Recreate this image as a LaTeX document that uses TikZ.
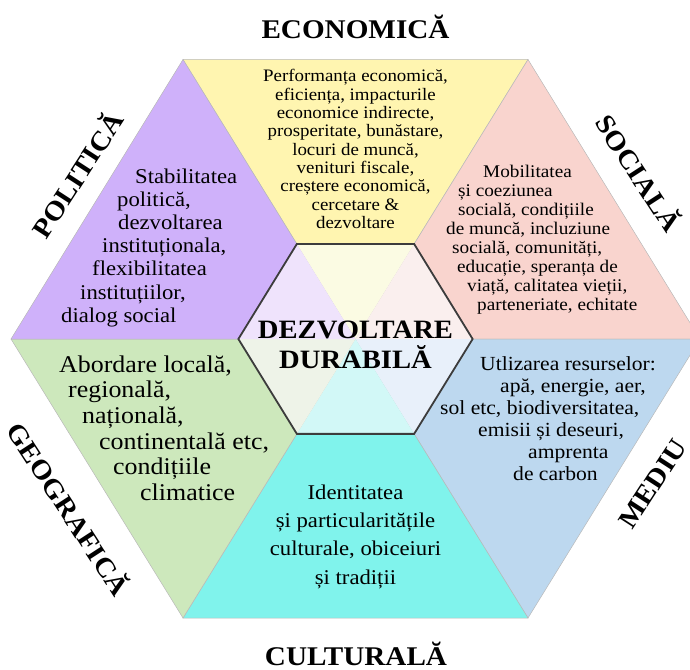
\documentclass[tikz,border=0pt]{standalone}
\usepackage{fontspec}
\setmainfont{Liberation Serif}[FakeStretch=1.08]
\usetikzlibrary{calc}
\definecolor{cyel}{HTML}{FFF5B0}
\definecolor{cpur}{HTML}{CFB1FA}
\definecolor{cpink}{HTML}{F9D4CE}
\definecolor{cgreen}{HTML}{CDE8BC}
\definecolor{ccyan}{HTML}{80F3EC}
\definecolor{cblue}{HTML}{BDD8EF}
\definecolor{tyel}{HTML}{FBFBE3}
\definecolor{tpur}{HTML}{EFE3FC}
\definecolor{tpink}{HTML}{FAEFEE}
\definecolor{tgreen}{HTML}{EEF3E8}
\definecolor{tcyan}{HTML}{D2F8F7}
\definecolor{tblue}{HTML}{E8F0FA}
\definecolor{hexline}{HTML}{3C3C3C}
\begin{document}
\begin{tikzpicture}[x=1pt,y=-1pt,
  sector/.style={draw=gray!55,line width=0.5pt},
  title/.style={font=\bfseries\fontsize{27}{27}\selectfont,inner sep=0pt},
  center/.style={font=\bfseries\fontsize{26.5}{30}\selectfont,inner sep=0pt,anchor=base},
  eco/.style={font=\fontsize{17.5}{18}\selectfont,inner sep=0pt,anchor=base},
  pol/.style={font=\fontsize{21}{22}\selectfont,inner sep=0pt,anchor=base west},
  soc/.style={font=\fontsize{17.8}{18}\selectfont,inner sep=0pt,anchor=base west},
  geo/.style={font=\fontsize{24}{25}\selectfont,inner sep=0pt,anchor=base west},
  med/.style={font=\fontsize{20}{21}\selectfont,inner sep=0pt,anchor=base west},
  cul/.style={font=\fontsize{21}{22}\selectfont,inner sep=0pt,anchor=base}]
\useasboundingbox (0,0) rectangle (690,669);
\clip (0,0) rectangle (690,669);
% geometry
\coordinate (C) at (355.5,339);
\coordinate (L) at (11,339);
\coordinate (TL) at (183,59.5);
\coordinate (TR) at (528,59.5);
\coordinate (R) at (700,339);
\coordinate (BR) at (528,618);
\coordinate (BL) at (183,618);
\coordinate (iL) at ($(C)!0.34!(L)$);
\coordinate (iTL) at ($(C)!0.34!(TL)$);
\coordinate (iTR) at ($(C)!0.34!(TR)$);
\coordinate (iR) at ($(C)!0.34!(R)$);
\coordinate (iBR) at ($(C)!0.34!(BR)$);
\coordinate (iBL) at ($(C)!0.34!(BL)$);
% outer sectors
\filldraw[sector,fill=cyel] (TL) -- (TR) -- (C) -- cycle;
\filldraw[sector,fill=cpink] (TR) -- (R) -- (C) -- cycle;
\filldraw[sector,fill=cblue] (R) -- (BR) -- (C) -- cycle;
\filldraw[sector,fill=ccyan] (BR) -- (BL) -- (C) -- cycle;
\filldraw[sector,fill=cgreen] (BL) -- (L) -- (C) -- cycle;
\filldraw[sector,fill=cpur] (L) -- (TL) -- (C) -- cycle;
% inner sectors
\fill[tyel] (iTL) -- (iTR) -- (C) -- cycle;
\fill[tpink] (iTR) -- (iR) -- (C) -- cycle;
\fill[tblue] (iR) -- (iBR) -- (C) -- cycle;
\fill[tcyan] (iBR) -- (iBL) -- (C) -- cycle;
\fill[tgreen] (iBL) -- (iL) -- (C) -- cycle;
\fill[tpur] (iL) -- (iTL) -- (C) -- cycle;
\draw[hexline,line width=1.8pt,line join=miter] (iL) -- (iTL) -- (iTR) -- (iR) -- (iBR) -- (iBL) -- cycle;
% titles
\node[title,anchor=base] (tEco) at (355.5,38) {ECONOMICĂ};
\node[title,anchor=base] (tCul) at (356,665) {CULTURALĂ};
\node[title,rotate=57] (tPol) at (76,174) {POLITICĂ};
\node[title,rotate=-57] (tSoc) at (640,172) {SOCIALĂ};
\node[title,rotate=-57] (tGeo) at (70,508) {GEOGRAFICĂ};
\node[title,rotate=57] (tMed) at (653,484) {MEDIU};
% centre
\node[center] (dz1) at (355.5,338) {DEZVOLTARE};
\node[center] (dz2) at (355.5,368) {DURABILĂ};
% economic
\node[eco] (e1) at (355.5,81.7) {Performanța economică,};
\node[eco] (e2) at (355.5,100) {eficiența, impacturile};
\node[eco] (e3) at (355.5,118.3) {economice indirecte,};
\node[eco] (e4) at (355.5,136.6) {prosperitate, bunăstare,};
\node[eco] (e5) at (355.5,155) {locuri de muncă,};
\node[eco] (e6) at (355.5,173.3) {venituri fiscale,};
\node[eco] (e7) at (355.5,191.6) {creștere economică,};
\node[eco] (e8) at (355.5,210) {cercetare \&};
\node[eco] (e9) at (355.5,228.3) {dezvoltare};
% political
\node[pol] (p1) at (135,183) {Stabilitatea};
\node[pol] (p2) at (117,206.2) {politică,};
\node[pol] (p3) at (118,229.4) {dezvoltarea};
\node[pol] (p4) at (102,252.6) {instituționala,};
\node[pol] (p5) at (92,275.8) {flexibilitatea};
\node[pol] (p6) at (80,299) {instituțiilor,};
\node[pol] (p7) at (61,322.2) {dialog social};
% social
\node[soc] (s1) at (483,177) {Mobilitatea};
\node[soc] (s2) at (458,196) {și coeziunea};
\node[soc] (s3) at (458,215) {socială, condițiile};
\node[soc] (s4) at (446,234) {de muncă, incluziune};
\node[soc] (s5) at (452,253) {socială, comunități,};
\node[soc] (s6) at (457,272) {educație, speranța de};
\node[soc] (s7) at (467,291) {viață, calitatea vieții,};
\node[soc] (s8) at (477,310) {parteneriate, echitate};
% geographic
\node[geo] (g1) at (59,372) {Abordare locală,};
\node[geo] (g2) at (68,397.7) {regională,};
\node[geo] (g3) at (82,423.4) {națională,};
\node[geo] (g4) at (99,449.1) {continentală etc,};
\node[geo] (g5) at (113,474.8) {condițiile};
\node[geo] (g6) at (140,500.5) {climatice};
% environment
\node[med] (m1) at (480,370) {Utlizarea resurselor:};
\node[med] (m2) at (500,392) {apă, energie, aer,};
\node[med] (m3) at (440,414) {sol etc, biodiversitatea,};
\node[med] (m4) at (478,436) {emisii și deseuri,};
\node[med] (m5) at (528,458) {amprenta};
\node[med] (m6) at (513,480) {de carbon};
% cultural
\node[cul] (c1) at (355.5,499) {Identitatea};
\node[cul] (c2) at (355.5,527.3) {și particularitățile};
\node[cul] (c3) at (355.5,555.6) {culturale, obiceiuri};
\node[cul] (c4) at (355.5,584) {și tradiții};
\end{tikzpicture}
\end{document}
